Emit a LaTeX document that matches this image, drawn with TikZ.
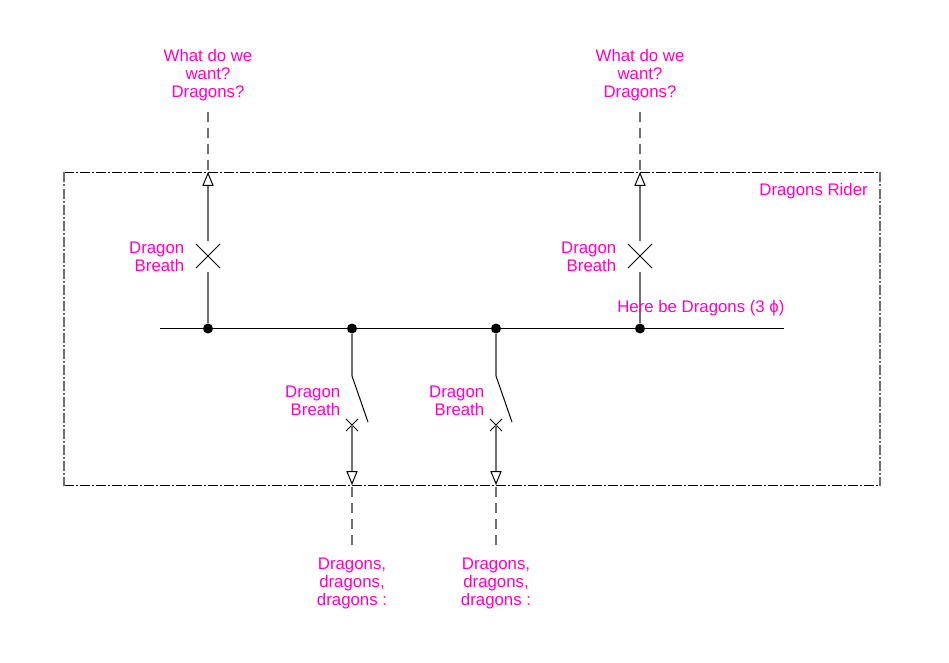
\documentclass[tikz,border=0pt]{standalone}
\usepackage{fontspec}
\setmainfont{Liberation Sans}
\usetikzlibrary{arrows.meta}
\usetikzlibrary{shapes.misc}
\definecolor{labelpink}{RGB}{255,0,191}
\tikzset{
  wire/.style={line width=0.75pt,color=black},
  stem/.style={line width=1.5pt,color=black!57},
  feed/.style={stem,-{Triangle[open,length=10.5pt,width=8.5pt,line width=0.75pt,color=black]}},
  gofer/.style={stem,dash pattern=on 7.5pt off 4.5pt},
  framerun/.style={wire,dash pattern=on 7.5pt off 1.5pt on 1.5pt off 1.5pt},
  frameside/.style={stem,dash pattern=on 7.5pt off 1.5pt on 1.5pt off 1.5pt},
  junction/.style={circle,fill=black,draw=none,inner sep=0pt,minimum size=7.5pt},
  bigcross/.style={wire,draw,cross out,inner sep=0pt,outer sep=0pt,minimum size=18pt},
  smallcross/.style={wire,draw,cross out,inner sep=0pt,outer sep=0pt,minimum size=9pt},
  pinktext/.style={inner sep=0.75pt,text=labelpink,font=\fontsize{12.6}{13.5}\selectfont,align=center},
  pinkright/.style={pinktext,align=right,anchor=east},
}

\begin{document}
\begin{tikzpicture}[x=0.75pt,y=0.75pt,yscale=-1,xscale=1]
\useasboundingbox (0,0) rectangle (949,663);

%Frame
\coordinate (framea) at (64,172.5);
\coordinate (frameb) at (880,172.5);
\coordinate (framec) at (880,485.5);
\coordinate (framed) at (64,485.5);
\draw [framerun] (framea) -- (frameb);
\draw [framerun] (framed) -- (framec);
\draw [frameside] (framea) -- (framed);
\draw [frameside] (frameb) -- (framec);

%Bus
\coordinate (busleft) at (160,328.5);
\coordinate (busright) at (784,328.5);
\draw [wire] (busleft) -- (busright);
\node [junction] (joina) at (208,328.5) {};
\node [junction] (joinb) at (352,328.5) {};
\node [junction] (joinc) at (496,328.5) {};
\node [junction] (joind) at (640,328.5) {};

%Left upper branch
\node [bigcross] (crossa) at (208,256) {};
\coordinate (breakalow) at (208,272);
\coordinate (breakaup) at (208,241);
\coordinate (tipa) at (208,172);
\coordinate (enda) at (208,112);
\draw [stem] (joina) -- (breakalow);
\draw [feed] (breakaup) -- (tipa);
\draw [gofer] (enda) -- (tipa);

%Right upper branch
\node [bigcross] (crossd) at (640,256) {};
\coordinate (breakdlow) at (640,272);
\coordinate (breakdup) at (640,241);
\coordinate (tipd) at (640,172);
\coordinate (endd) at (640,112);
\draw [stem] (joind) -- (breakdlow);
\draw [feed] (breakdup) -- (tipd);
\draw [gofer] (endd) -- (tipd);

%Left lower branch
\node [smallcross] (crossb) at (352,425) {};
\coordinate (hingeb) at (352,376);
\coordinate (bladeb) at (368,422);
\coordinate (tipb) at (352,485);
\coordinate (endb) at (352,545);
\draw [stem] (joinb) -- (hingeb);
\draw [wire] (hingeb) -- (bladeb);
\draw [feed] (crossb.center) -- (tipb);
\draw [gofer] (endb) -- (tipb);

%Right lower branch
\node [smallcross] (crossc) at (496,425) {};
\coordinate (hingec) at (496,376);
\coordinate (bladec) at (512,422);
\coordinate (tipc) at (496,485);
\coordinate (endc) at (496,545);
\draw [stem] (joinc) -- (hingec);
\draw [wire] (hingec) -- (bladec);
\draw [feed] (crossc.center) -- (tipc);
\draw [gofer] (endc) -- (tipc);

% Text Node
\node [pinktext] (wanta) at (208,75) {What do we\\want?\\Dragons?};
% Text Node
\node [pinktext] (wantd) at (640,75) {What do we\\want?\\Dragons?};
% Text Node
\node [pinktext,anchor=east] (rider) at (869,191) {Dragons Rider};
% Text Node
\node [pinktext,anchor=west] (bus) at (616,308) {Here be Dragons (3 ϕ)};
% Text Node
\node [pinkright] (breatha) at (185.5,257) {Dragon\\Breath};
% Text Node
\node [pinkright] (breathd) at (617.5,257) {Dragon\\Breath};
% Text Node
\node [pinkright] (breathb) at (341.5,401) {Dragon\\Breath};
% Text Node
\node [pinkright] (breathc) at (485.5,401) {Dragon\\Breath};
% Text Node
\node [pinktext] (dragonsb) at (352,583.5) {Dragons,\\dragons,\\dragons :};
% Text Node
\node [pinktext] (dragonsc) at (496,583.5) {Dragons,\\dragons,\\dragons :};

\end{tikzpicture}
\end{document}
